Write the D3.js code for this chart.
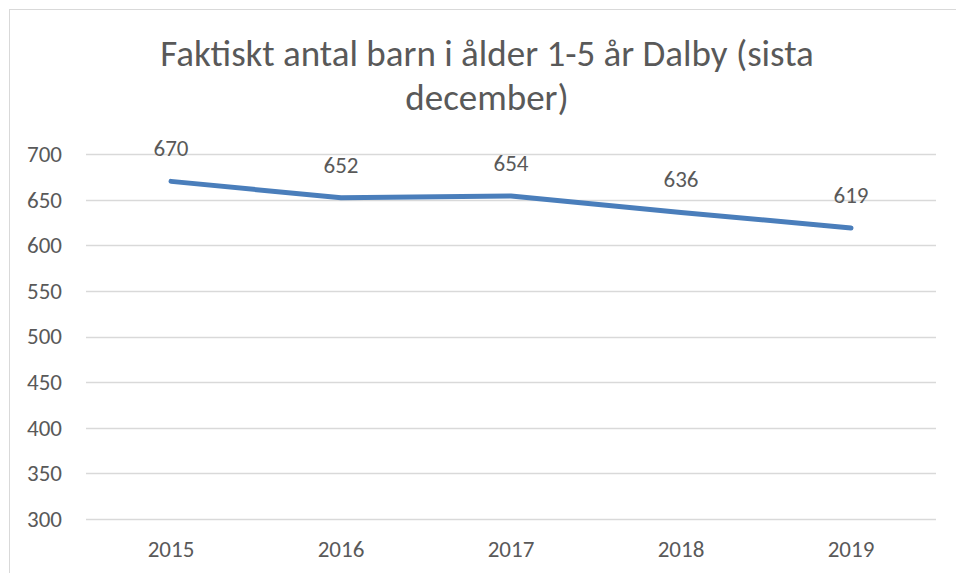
<!DOCTYPE html>
<html>
<head>
<meta charset="utf-8">
<script src="https://cdn.jsdelivr.net/npm/d3@7"></script>
<style>
  body { margin: 0; background: #fff; }
  text { font-family: Carlito, Lato, "Liberation Sans", sans-serif; fill: #595959; }
</style>
</head>
<body>
<div id="chart-area"></div>
<script>
var years = ["2015", "2016", "2017", "2018", "2019"];
var values = [670, 652, 654, 636, 619];
var yTicks = [300, 350, 400, 450, 500, 550, 600, 650, 700];
var titleLines = ["Faktiskt antal barn i ålder 1-5 år Dalby (sista", "december)"];

var W = 956, H = 573;
var margin = {left: 86, right: 20, top: 154, bottom: 54};
var width = W - margin.left - margin.right;
var height = H - margin.top - margin.bottom;

var svg = d3.select("#chart-area")
    .append("svg")
        .attr("width", W)
        .attr("height", H);

// chart frame (cut off at right and bottom like the screenshot)
svg.append("rect")
    .attr("x", 9.5)
    .attr("y", 9.5)
    .attr("width", W + 10)
    .attr("height", H + 10)
    .attr("fill", "none")
    .attr("stroke", "#d9d9d9")
    .attr("stroke-width", 1);

// title
svg.append("g").selectAll("text")
    .data(titleLines)
    .enter()
    .append("text")
        .attr("x", 487)
        .attr("y", function(d, i) { return 66 + i * 44; })
        .attr("text-anchor", "middle")
        .attr("font-size", "37px")
        .text(function(d) { return d; });

var g = svg.append("g")
    .attr("transform", "translate(" + margin.left + ", " + margin.top + ")");

var x = d3.scaleBand()
    .domain(years)
    .range([0, width]);

var y = d3.scaleLinear()
    .domain([300, 700])
    .range([height, 0]);

// gridlines
g.append("g")
    .selectAll("line")
    .data(yTicks)
    .enter()
    .append("line")
        .attr("x1", 0)
        .attr("x2", width)
        .attr("y1", function(d) { return Math.round(y(d)) + 0.5; })
        .attr("y2", function(d) { return Math.round(y(d)) + 0.5; })
        .attr("stroke", "#d9d9d9")
        .attr("stroke-width", 1.5);

// y axis labels
var yAxis = d3.axisLeft(y).tickValues(yTicks).tickSize(0).tickPadding(24);
var ya = g.append("g").attr("class", "y axis").call(yAxis);
ya.select(".domain").remove();
ya.selectAll("text").attr("font-size", "23px").attr("fill", "#595959");

// x axis labels
var xAxis = d3.axisBottom(x).tickSize(0).tickPadding(0);
var xa = g.append("g")
    .attr("class", "x axis")
    .attr("transform", "translate(0, " + height + ")")
    .call(xAxis);
xa.select(".domain").remove();
xa.selectAll("text")
    .attr("font-size", "23px")
    .attr("fill", "#595959")
    .attr("dy", null)
    .attr("y", 38);

var pts = years.map(function(d, i) { return {year: d, v: values[i]}; });

var line = d3.line()
    .x(function(d) { return x(d.year) + x.bandwidth() / 2; })
    .y(function(d) { return y(d.v); });

g.append("path")
    .datum(pts)
    .attr("d", line)
    .attr("fill", "none")
    .attr("stroke", "#4a7ebb")
    .attr("stroke-width", 5)
    .attr("stroke-linecap", "round")
    .attr("stroke-linejoin", "round");

// data labels
g.selectAll(".lbl")
    .data(pts)
    .enter()
    .append("text")
        .attr("class", "lbl")
        .attr("x", function(d) { return x(d.year) + x.bandwidth() / 2; })
        .attr("y", function(d) { return y(d.v) - 25; })
        .attr("text-anchor", "middle")
        .attr("font-size", "23px")
        .attr("fill", "#404040")
        .text(function(d) { return d.v; });
</script>
</body>
</html>
